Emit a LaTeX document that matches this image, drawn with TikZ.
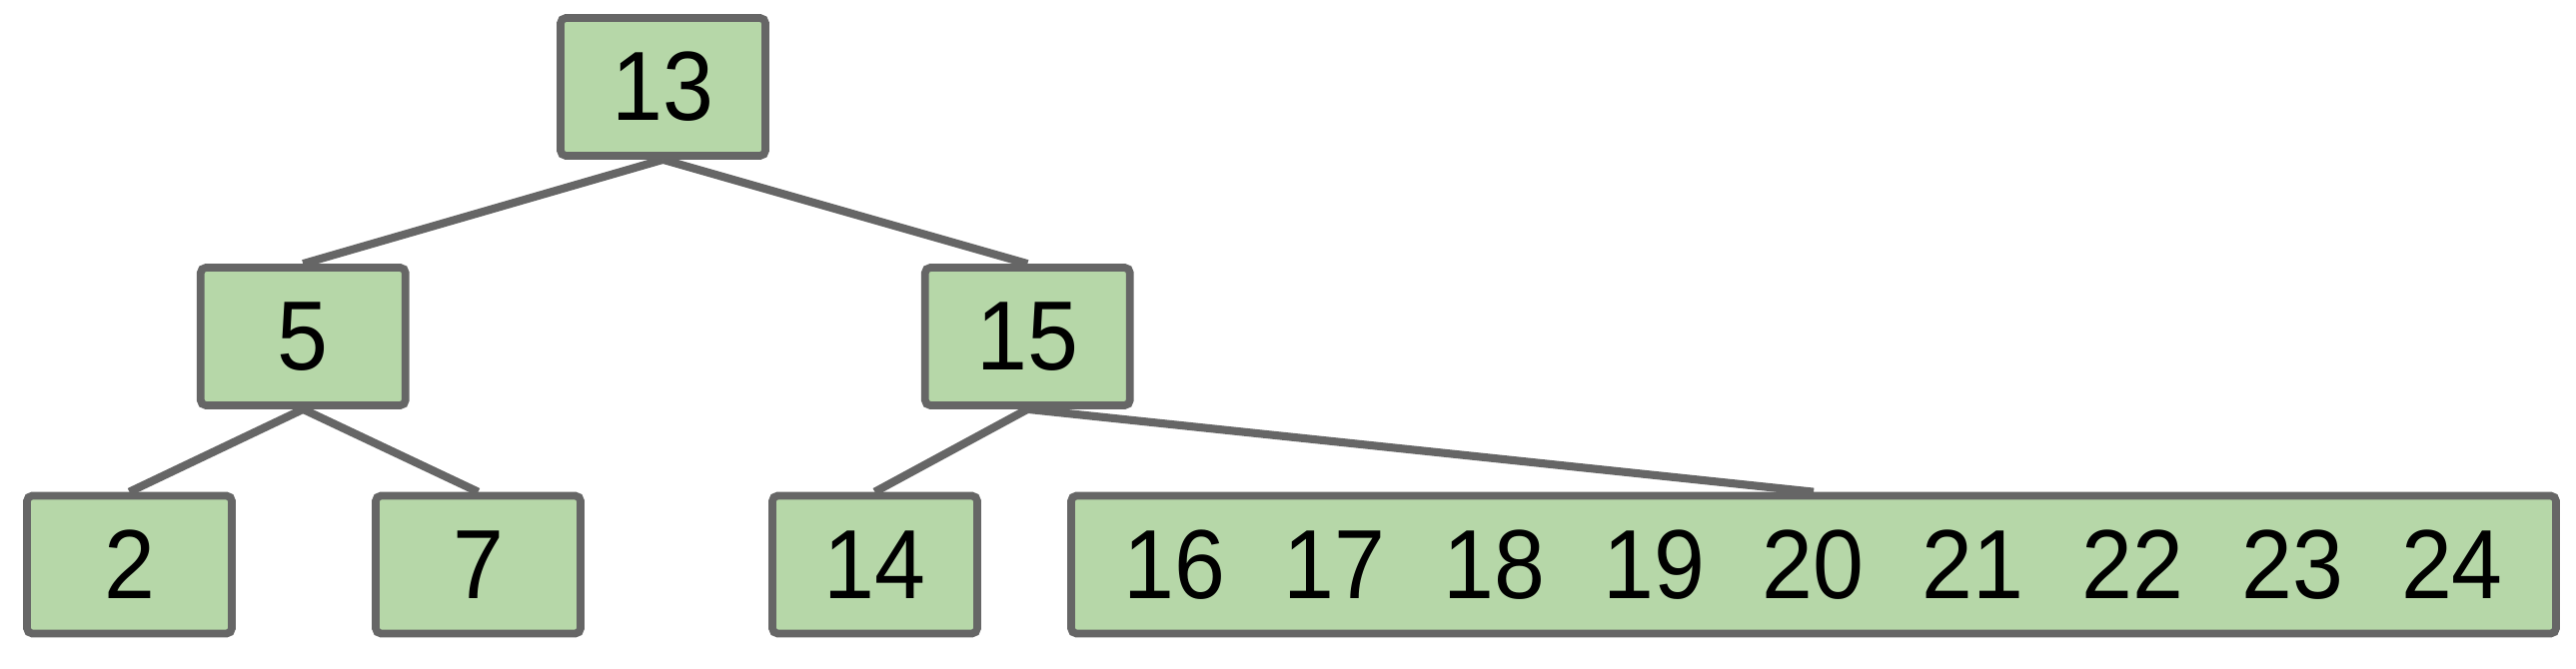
\documentclass[tikz,border=0pt]{standalone}
\usepackage{fontspec}
\setmainfont{Liberation Sans}[FakeStretch=0.93]
\definecolor{boxfill}{HTML}{B6D7A8}
\definecolor{boxline}{HTML}{666666}
\tikzset{
  tnode/.style={draw=boxline, fill=boxfill, line width=2.2pt, rounded corners=1.5pt,
    inner sep=0pt, minimum width=2.05cm, minimum height=1.38cm,
    font=\fontsize{28}{34}\selectfont},
  edge/.style={draw=boxline, line width=2.3pt}
}
\newcommand{\gp}{\hspace{16.5pt}}
\begin{document}
\begin{tikzpicture}
\useasboundingbox (0,0) rectangle (25.78,-6.70);
\node[tnode] (n13) at (6.635,-0.87) {13};
\node[tnode] (n5) at (3.033,-3.37) {5};
\node[tnode] (n15) at (10.283,-3.37) {15};
\node[tnode] (n2) at (1.295,-5.655) {2};
\node[tnode] (n7) at (4.785,-5.655) {7};
\node[tnode] (n14) at (8.755,-5.655) {14};
\node[tnode, minimum width=14.86cm] (nbig) at (18.15,-5.655)
  {16\gp 17\gp 18\gp 19\gp 20\gp 21\gp 22\gp 23\gp 24};
\draw[edge] (n13.south) -- (n5.north);
\draw[edge] (n13.south) -- (n15.north);
\draw[edge] (n5.south) -- (n2.north);
\draw[edge] (n5.south) -- (n7.north);
\draw[edge] (n15.south) -- (n14.north);
\draw[edge] (n15.south) -- (nbig.north);
\end{tikzpicture}
\end{document}
